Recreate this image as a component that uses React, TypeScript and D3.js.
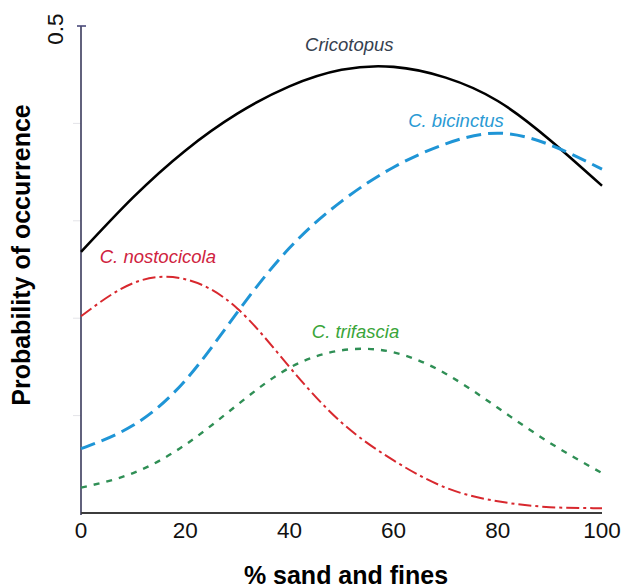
import React from "react";
import * as d3 from "d3";

const sandFines = [0, 10, 20, 30, 40, 50, 60, 70, 80, 90, 100];
const cricotopus = [0.268, 0.324, 0.372, 0.41, 0.438, 0.455, 0.458, 0.447, 0.423, 0.383, 0.336];
const bicinctus = [0.066, 0.09, 0.136, 0.206, 0.272, 0.32, 0.355, 0.379, 0.39, 0.378, 0.353];
const nostocicola = [0.202, 0.236, 0.24, 0.21, 0.15, 0.093, 0.054, 0.026, 0.012, 0.006, 0.005];
const trifascia = [0.026, 0.041, 0.07, 0.111, 0.149, 0.167, 0.165, 0.143, 0.108, 0.072, 0.041];
const xTicks = [0, 20, 40, 60, 80, 100];
const yMinorTicks = [0.1, 0.2, 0.3, 0.4];

const W = 636;
const H = 588;

export default function App() {
  const x = d3.scaleLinear().domain([0, 100]).range([81, 602]);
  const y = d3.scaleLinear().domain([0, 0.5]).range([513, 26]);
  const line = (vals: number[]) =>
    d3
      .line<number>()
      .x((_, i) => x(sandFines[i]))
      .y((v) => y(v))
      .curve(d3.curveNatural)(vals) as string;

  const font = "'Liberation Sans', Arial, Helvetica, sans-serif";
  const series = [
    { name: "Cricotopus", vals: cricotopus, stroke: "#000000", width: 2.6, dash: "none", label: "#36414f", lx: 51.5, ly: 0.474, anchor: "middle" },
    { name: "C. bicinctus", vals: bicinctus, stroke: "#1f95d6", width: 3, dash: "15 7", label: "#2a9ad4", lx: 62.8, ly: 0.396, anchor: "start" },
    { name: "C. nostocicola", vals: nostocicola, stroke: "#d8282e", width: 2, dash: "13 4 3 4", label: "#cf2340", lx: 3.6, ly: 0.257, anchor: "start" },
    { name: "C. trifascia", vals: trifascia, stroke: "#2f8f55", width: 2.4, dash: "6 7", label: "#3aa53a", lx: 44.3, ly: 0.18, anchor: "start" },
  ];

  return (
    <svg width={W} height={H} style={{ position: "absolute", left: 0, top: 0, background: "#fff" }} fontFamily={font}>
      {yMinorTicks.map((t) => (
        <line key={t} x1={x(0) - 8} x2={x(0)} y1={y(t)} y2={y(t)} stroke="#e4e4e8" strokeWidth={1} />
      ))}
      <line x1={x(0)} x2={x(0)} y1={y(0.5)} y2={y(0) + 2} stroke="#3a3a5c" strokeWidth={1.6} />
      <line x1={x(0) - 4} x2={x(0) + 5} y1={y(0.5)} y2={y(0.5)} stroke="#4a4a7a" strokeWidth={1.6} />
      <line x1={x(0)} x2={x(100)} y1={y(0)} y2={y(0)} stroke="#3c3c3c" strokeWidth={1.8} />
      {series.map((s) => (
        <path key={s.name} d={line(s.vals)} fill="none" stroke={s.stroke} strokeWidth={s.width} strokeDasharray={s.dash} />
      ))}
      {series.map((s) => (
        <text key={s.name + "l"} x={x(s.lx)} y={y(s.ly)} fill={s.label} fontSize={18.5} fontStyle="italic" textAnchor={s.anchor}>
          {s.name}
        </text>
      ))}
      {xTicks.map((t) => (
        <text key={t} x={x(t)} y={538} fontSize={22.5} textAnchor="middle" fill="#111">
          {t}
        </text>
      ))}
      <text transform={`translate(63,${y(0.5) + 3}) rotate(-90)`} fontSize={22.5} textAnchor="middle" fill="#111">
        0.5
      </text>
      <text transform={`translate(30,255) rotate(-90)`} fontSize={25} fontWeight="bold" textAnchor="middle" fill="#000">
        Probability of occurrence
      </text>
      <text x={346} y={584} fontSize={25} fontWeight="bold" textAnchor="middle" fill="#000">
        % sand and fines
      </text>
    </svg>
  );
}
